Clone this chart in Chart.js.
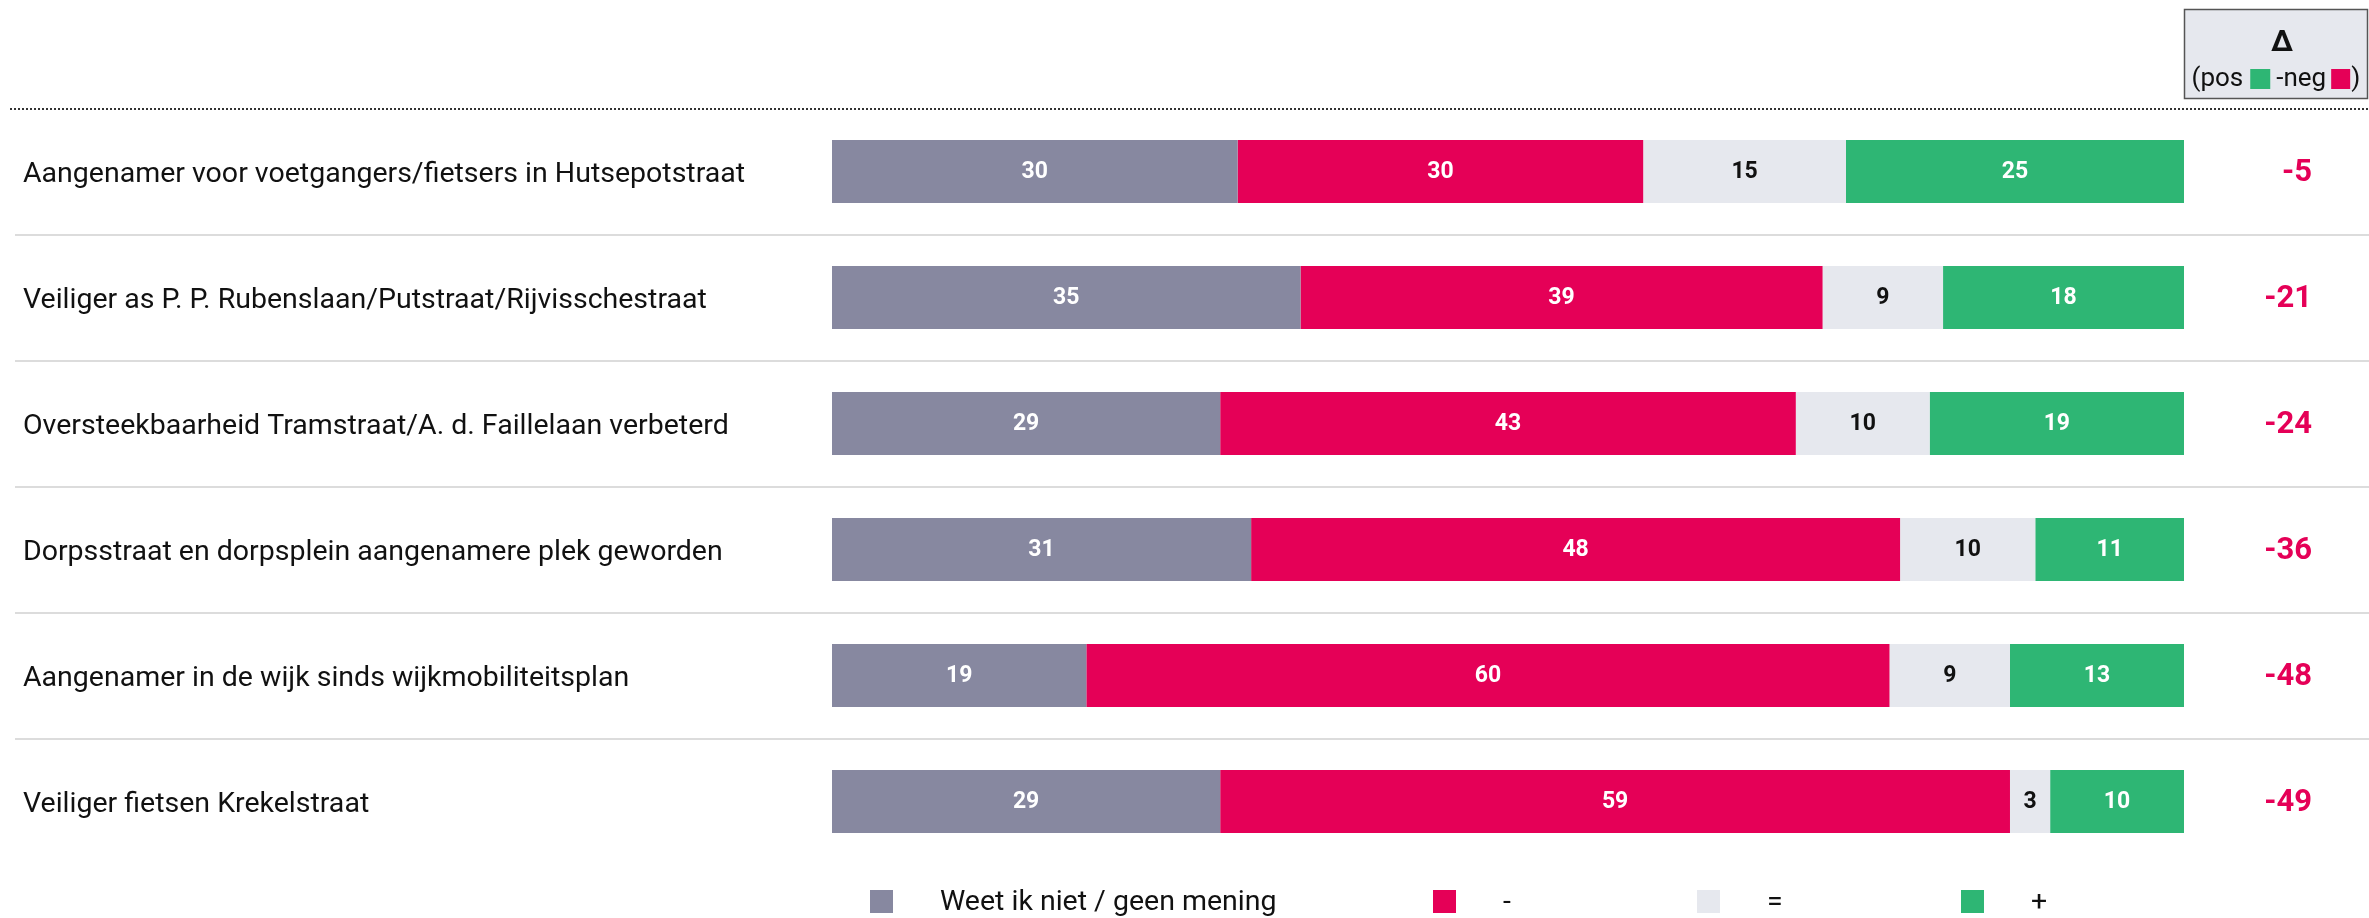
<!DOCTYPE html>
<html>
<head>
<meta charset="utf-8">
<script src="https://cdn.jsdelivr.net/npm/chart.js@4/dist/chart.umd.min.js"></script>
<style>
  html, body { margin: 0; padding: 0; background: #ffffff; overflow: hidden; }
  #wrap { width: 2369px; height: 918px; position: relative; }
</style>
</head>
<body>
<div id="wrap"><canvas id="chart"></canvas></div>
<script>
// Survey statements (one row each)
const categories = [
  'Aangenamer voor voetgangers/fietsers in Hutsepotstraat',
  'Veiliger as P. P. Rubenslaan/Putstraat/Rijvisschestraat',
  'Oversteekbaarheid Tramstraat/A. d. Faillelaan verbeterd',
  'Dorpsstraat en dorpsplein aangenamere plek geworden',
  'Aangenamer in de wijk sinds wijkmobiliteitsplan',
  'Veiliger fietsen Krekelstraat'
];

// Answer shares in percent
const weetNiet = [30, 35, 29, 31, 19, 29];
const negatief = [30, 39, 43, 48, 60, 59];
const gelijk   = [15,  9, 10, 10,  9,  3];
const positief = [25, 18, 19, 11, 13, 10];

// Net balance (positive minus negative)
const delta = [-5, -21, -24, -36, -48, -49];

const seriesNames  = ['Weet ik niet / geen mening', '-', '=', '+'];
const seriesValues = [weetNiet, negatief, gelijk, positief];
const seriesColors = ['#8788a0', '#e50057', '#e6e8ee', '#2eb674'];
const labelColors  = ['#ffffff', '#ffffff', '#111111', '#ffffff'];

const FONT = 'Roboto, "Noto Sans", sans-serif';

// each row is scaled to a full 100% bar; labels keep the rounded figures
const rowTotals = categories.map((_, i) => seriesValues.reduce((s, arr) => s + arr[i], 0));

const datasets = seriesValues.map((vals, k) => ({
  label: seriesNames[k],
  data: vals.map((v, i) => v / rowTotals[i] * 100),
  raw: vals,
  backgroundColor: seriesColors[k],
  borderWidth: 0,
  barPercentage: 1,
  categoryPercentage: 0.5
}));

const rowDecor = {
  id: 'rowDecor',
  beforeDatasetsDraw(chart) {
    const { ctx, chartArea, scales } = chart;
    const y = scales.y;
    const W = chart.width;
    ctx.save();
    // light separators between rows
    ctx.strokeStyle = '#dcdcdc';
    ctx.lineWidth = 2;
    for (let i = 0; i < categories.length - 1; i++) {
      const yy = Math.round((y.getPixelForValue(i) + y.getPixelForValue(i + 1)) / 2);
      ctx.beginPath();
      ctx.moveTo(15, yy);
      ctx.lineTo(W, yy);
      ctx.stroke();
    }
    // dotted header rule
    ctx.strokeStyle = '#333333';
    ctx.lineWidth = 2;
    ctx.setLineDash([2, 2]);
    const top = Math.round(chartArea.top);
    ctx.beginPath();
    ctx.moveTo(10, top);
    ctx.lineTo(W, top);
    ctx.stroke();
    ctx.restore();
  },
  afterDatasetsDraw(chart) {
    const { ctx, chartArea } = chart;
    ctx.save();
    ctx.textBaseline = 'middle';

    // values inside the segments
    ctx.textAlign = 'center';
    ctx.font = 'bold 23px ' + FONT;
    chart.data.datasets.forEach((ds, k) => {
      const meta = chart.getDatasetMeta(k);
      meta.data.forEach((bar, i) => {
        const cx = (bar.x + bar.base) / 2;
        ctx.fillStyle = labelColors[k];
        ctx.fillText(String(ds.raw[i]), cx, bar.y + 1);
      });
    });

    // net balance column
    const meta0 = chart.getDatasetMeta(0);
    ctx.textAlign = 'right';
    ctx.font = 'bold 31px ' + FONT;
    ctx.fillStyle = '#e50057';
    delta.forEach((d, i) => {
      ctx.fillText(String(d), 2312, meta0.data[i].y + 2);
    });

    // header box for the balance column
    const bx = chartArea.right + 0.5, by = 9.5, bw = 2367 - chartArea.right, bh = 89;
    ctx.fillStyle = '#e6e8ee';
    ctx.fillRect(bx, by, bw, bh);
    ctx.strokeStyle = '#555555';
    ctx.lineWidth = 1.5;
    ctx.strokeRect(bx, by, bw, bh);
    ctx.fillStyle = '#111111';
    ctx.textAlign = 'center';
    ctx.font = 'bold 30px ' + FONT;
    ctx.fillText('Δ', bx + bw / 2 + 6, 43);
    ctx.textAlign = 'left';
    ctx.font = '26px ' + FONT;
    let x = bx + 7;
    const ty = 79;
    ctx.fillText('(pos', x, ty);
    x += ctx.measureText('(pos').width + 7;
    ctx.fillStyle = seriesColors[3];
    ctx.fillRect(x, ty - 10, 20, 20);
    x += 26;
    ctx.fillStyle = '#111111';
    ctx.fillText('-neg', x, ty);
    x += ctx.measureText('-neg').width + 5;
    ctx.fillStyle = seriesColors[1];
    ctx.fillRect(x, ty - 10, 19, 20);
    x += 20;
    ctx.fillStyle = '#111111';
    ctx.fillText(')', x, ty);

    // legend row
    const legendX = [870, 1433, 1697, 1961];
    const ly = 902;
    ctx.font = '28.5px ' + FONT;
    chart.data.datasets.forEach((ds, k) => {
      ctx.fillStyle = ds.backgroundColor;
      ctx.fillRect(legendX[k], ly - 12, 23, 23);
      ctx.fillStyle = '#111111';
      ctx.textAlign = 'left';
      ctx.fillText(ds.label, legendX[k] + 70, ly + 1);
    });
    ctx.restore();
  }
};

new Chart(document.getElementById('chart'), {
  type: 'bar',
  data: { labels: categories, datasets },
  options: {
    indexAxis: 'y',
    responsive: true,
    maintainAspectRatio: false,
    devicePixelRatio: 1,
    animation: false,
    layout: { padding: { left: 23, right: 185, top: 108.5, bottom: 53.5 } },
    scales: {
      x: { stacked: true, min: 0, max: 100, display: false },
      y: {
        stacked: true,
        grid: { display: false },
        border: { display: false },
        ticks: {
          crossAlign: 'far',
          padding: 0,
          labelOffset: 3,
          color: '#111111',
          font: { family: FONT, size: 28.5 }
        },
        afterFit(scale) { scale.width = 809; }
      }
    },
    plugins: {
      legend: { display: false },
      tooltip: { enabled: false }
    }
  },
  plugins: [rowDecor]
});
</script>
</body>
</html>
